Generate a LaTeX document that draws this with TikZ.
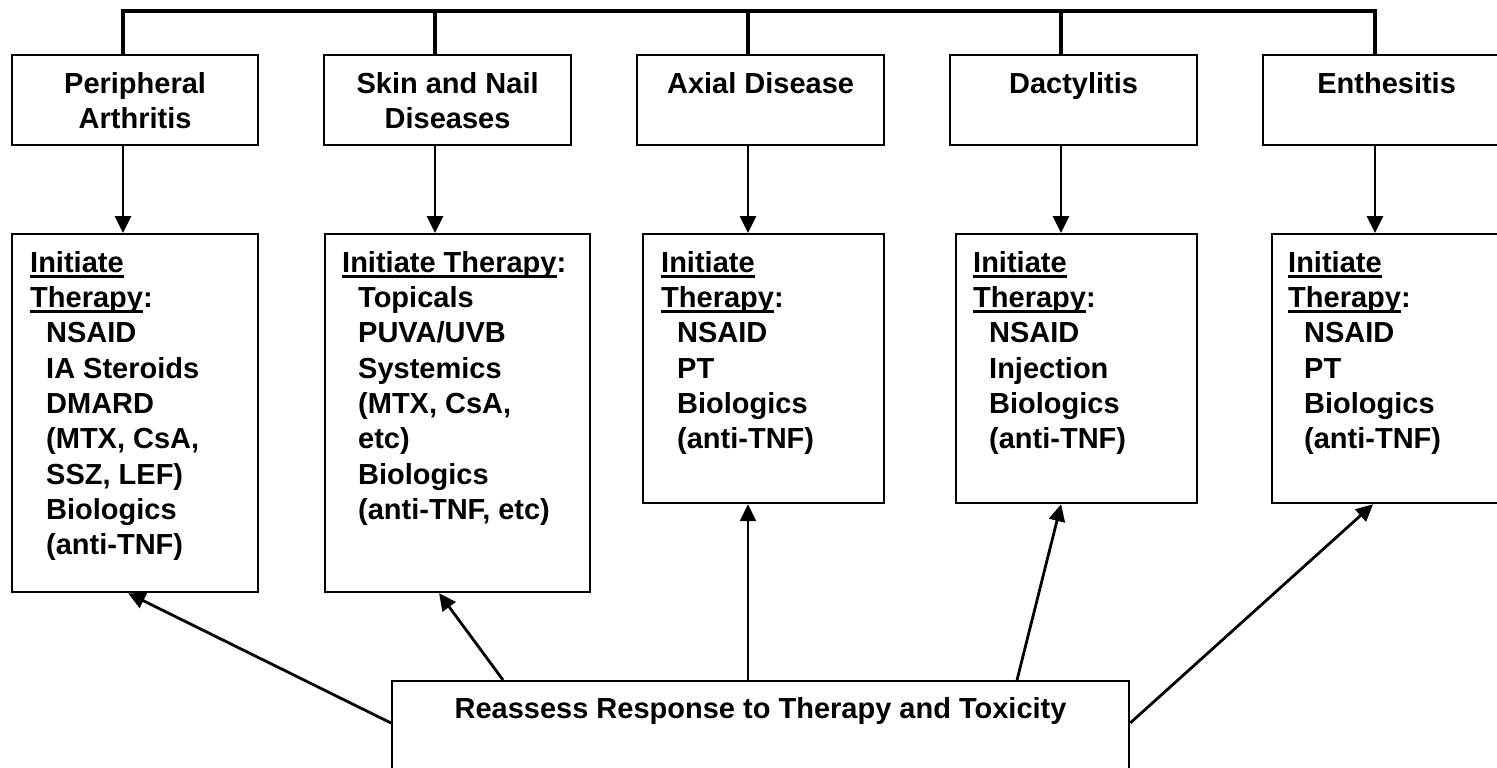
\documentclass[tikz,border=0pt]{standalone}
\usepackage{fontspec}
\setmainfont{Liberation Sans}
\usetikzlibrary{arrows.meta,calc}
\newcommand{\myul}[1]{\sbox0{#1}\rlap{\rule[-5.3pt]{\wd0}{2.6pt}}\usebox0}
\newcommand{\itm}{\hspace*{16pt}}
\begin{document}
\begin{tikzpicture}[x=1pt,y=-1pt,
 box/.style={draw,line width=2.2pt,rectangle,anchor=north west,inner sep=0pt},
 topbox/.style={box,minimum width=246pt,minimum height=90pt},
 txt/.style={inner sep=0pt,font=\fontsize{29}{35.3}\selectfont\bfseries},
 bus/.style={line width=3.4pt},
 arr/.style={line width=2.8pt,-{Triangle[length=17pt,width=16pt]}}]
\useasboundingbox (0,0) rectangle (1497,768);
\fill[white] (0,0) rectangle (1497,768);
\clip (0,0) rectangle (1497,768);

% top boxes
\node[topbox] (PA) at (11,54) {};
\node[topbox,minimum width=247pt] (SK) at (323,54) {};
\node[topbox,minimum width=247pt] (AX) at (636,54) {};
\node[topbox,minimum width=247pt] (DA) at (949,54) {};
\node[topbox,minimum width=247pt] (EN) at (1262,54) {};

\node[txt,align=center,anchor=north] (PAt) at ($(PA.north)+(0,18)$) {Peripheral\\Arthritis};
\node[txt,align=center,anchor=north] (SKt) at ($(SK.north)+(0,18)$) {Skin and Nail\\Diseases};
\node[txt,align=center,anchor=north] (AXt) at ($(AX.north)+(0,18)$) {Axial Disease};
\node[txt,align=center,anchor=north] (DAt) at ($(DA.north)+(0,18)$) {Dactylitis};
\node[txt,align=center,anchor=north] (ENt) at ($(EN.north)+(0,18)$) {Enthesitis};

% lower boxes
\node[box,minimum width=246pt,minimum height=358pt] (PAL) at (11,233) {};
\node[box,minimum width=265pt,minimum height=358pt] (SKL) at (324,233) {};
\node[box,minimum width=241pt,minimum height=269pt] (AXL) at (642,233) {};
\node[box,minimum width=241pt,minimum height=269pt] (DAL) at (955,233) {};
\node[box,minimum width=241pt,minimum height=269pt] (ENL) at (1271,233) {};

\node[txt,align=left,anchor=north west] (PALt) at ($(PAL.north west)+(19,18)$)
 {\myul{Initiate}\\\myul{Therapy}:\\\itm NSAID\\\itm IA Steroids\\\itm DMARD\\\itm (MTX, CsA,\\\itm SSZ, LEF)\\\itm Biologics\\\itm (anti-TNF)};
\node[txt,align=left,anchor=north west] (SKLt) at ($(SKL.north west)+(18,18)$)
 {\myul{Initiate Therapy}:\\\itm Topicals\\\itm PUVA/UVB\\\itm Systemics\\\itm (MTX, CsA,\\\itm etc)\\\itm Biologics\\\itm (anti-TNF, etc)};
\node[txt,align=left,anchor=north west] (AXLt) at ($(AXL.north west)+(19,18)$)
 {\myul{Initiate}\\\myul{Therapy}:\\\itm NSAID\\\itm PT\\\itm Biologics\\\itm (anti-TNF)};
\node[txt,align=left,anchor=north west] (DALt) at ($(DAL.north west)+(18,18)$)
 {\myul{Initiate}\\\myul{Therapy}:\\\itm NSAID\\\itm Injection\\\itm Biologics\\\itm (anti-TNF)};
\node[txt,align=left,anchor=north west] (ENLt) at ($(ENL.north west)+(17,18)$)
 {\myul{Initiate}\\\myul{Therapy}:\\\itm NSAID\\\itm PT\\\itm Biologics\\\itm (anti-TNF)};

% bottom box
\node[box,minimum width=737pt,minimum height=130pt] (RR) at (391,680) {};
\node[txt,anchor=north] (RRt) at ($(RR.north)+(0,17)$) {Reassess Response to Therapy and Toxicity};

% bus
\coordinate (busA) at (123,11);
\coordinate (busB) at (435,11);
\coordinate (busC) at (748,11);
\coordinate (busD) at (1061,11);
\coordinate (busE) at (1375,11);
\draw[bus] (busA |- PA.north) -- (busA) -- (busE) -- (busE |- EN.north);
\draw[bus] (busB) -- (busB |- SK.north);
\draw[bus] (busC) -- (busC |- AX.north);
\draw[bus] (busD) -- (busD |- DA.north);

% down arrows
\draw[arr] (busA |- PA.south) -- (busA |- PAL.north);
\draw[arr] (busB |- SK.south) -- (busB |- SKL.north);
\draw[arr] (busC |- AX.south) -- (busC |- AXL.north);
\draw[arr] (busD |- DA.south) -- (busD |- DAL.north);
\draw[arr] (busE |- EN.south) -- (busE |- ENL.north);

% up arrows from reassess box
\draw[arr] ($(RR.north west)+(0,43)$) -- ($(PAL.south)+(-7,0)$);
\draw[arr] ($(RR.north west)+(112,0)$) -- ($(SKL.south)+(-18.5,0)$);
\draw[arr] (busC |- RR.north) -- (busC |- AXL.south);
\draw[arr] ($(RR.north west)+(626,0)$) -- ($(DAL.south)+(-15.5,0)$);
\draw[arr] ($(RR.north east)+(0,43)$) -- ($(ENL.south)+(-19.5,0)$);
\end{tikzpicture}
\end{document}
